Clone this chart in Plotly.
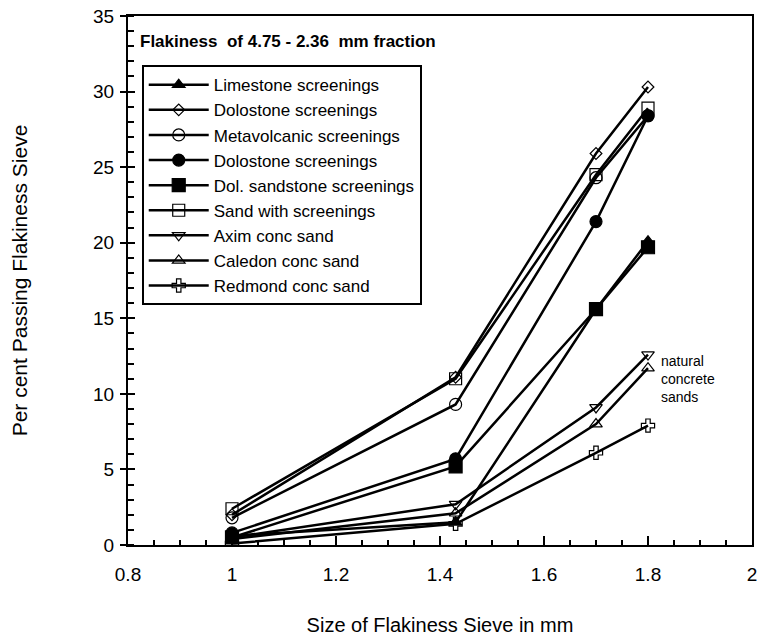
import plotly.graph_objects as go

sieve = [1.0, 1.43, 1.7, 1.8]

names = [
    "Limestone screenings",
    "Dolostone screenings",
    "Metavolcanic screenings",
    "Dolostone screenings",
    "Dol. sandstone screenings",
    "Sand with screenings",
    "Axim conc sand",
    "Caledon conc sand",
    "Redmond conc sand",
]

limestone = [0.6, 1.5, 15.6, 20.1]
dolostone_open = [2.0, 11.1, 25.9, 30.3]
metavolcanic = [1.8, 9.3, 24.3, 28.4]
dolostone_filled = [0.8, 5.7, 21.4, 28.4]
dol_sandstone = [0.5, 5.2, 15.6, 19.7]
sand_screenings = [2.4, 11.0, 24.5, 28.9]
axim = [0.5, 2.7, 9.1, 12.6]
caledon = [0.4, 2.1, 8.0, 11.7]
redmond = [0.1, 1.4, 6.1, 7.9]

x_ticks = [0.8, 1, 1.2, 1.4, 1.6, 1.8, 2]
x_tick_text = ["0.8", "1", "1.2", "1.4", "1.6", "1.8", "2"]
y_ticks = [0, 5, 10, 15, 20, 25, 30, 35]

series = [limestone, dolostone_open, metavolcanic, dolostone_filled,
          dol_sandstone, sand_screenings, axim, caledon, redmond]
symbols = ["triangle-up", "diamond-open", "circle-open", "circle", "square",
           "square-open", "triangle-down-open", "triangle-up-open", "cross-open"]
sizes = [11, 9, 12, 12, 13, 12, 11, 11, 11]

FONT = "Arial, 'Liberation Sans', sans-serif"

fig = go.Figure()
for n, ys, sym, sz in zip(names, series, symbols, sizes):
    fig.add_trace(go.Scatter(
        x=sieve, y=ys, name=n, mode="lines+markers",
        line=dict(color="black", width=2.5),
        marker=dict(symbol=sym, size=sz, color="black",
                    line=dict(color="black", width=1.2)),
    ))

fig.update_layout(
    width=758, height=638,
    margin=dict(l=128, r=6, t=16, b=93, autoexpand=False),
    paper_bgcolor="white", plot_bgcolor="white",
    font=dict(family=FONT, color="black", size=19),
    showlegend=True,
    legend=dict(
        x=0.022, y=0.907, xanchor="left", yanchor="top",
        bordercolor="black", borderwidth=2, bgcolor="white",
        font=dict(size=17, family=FONT), tracegroupgap=0,
        itemwidth=60,
    ),
    xaxis=dict(
        range=[0.8, 2.0], tickmode="array", tickvals=x_ticks, ticktext=x_tick_text,
        showgrid=False, zeroline=False, automargin=False,
        showline=True, linecolor="black", linewidth=2, mirror=True,
        ticks="inside", ticklen=9, tickwidth=1.5, tickcolor="black",
        minor=dict(tick0=0.8, dtick=0.05, ticks="inside", ticklen=5, tickwidth=1.5, tickcolor="black"),
        tickfont=dict(size=19), ticklabelstandoff=11, ticklabeloverflow="allow",
        title=dict(text="Size of Flakiness Sieve in mm", font=dict(size=20), standoff=34),
    ),
    yaxis=dict(
        range=[0, 35], tickmode="array", tickvals=y_ticks,
        showgrid=False, zeroline=False, automargin=False,
        showline=True, linecolor="black", linewidth=2, mirror=True,
        ticks="outside", ticklen=6, tickwidth=1.5, tickcolor="black",
        minor=dict(tick0=0, dtick=1, ticks="inside", ticklen=6, tickwidth=1.5, tickcolor="black"),
        tickfont=dict(size=19), ticklabelstandoff=2, ticklabeloverflow="allow",
        title=dict(text="Per cent Passing Flakiness Sieve", font=dict(size=21), standoff=60),
    ),
    yaxis2=dict(
        range=[0, 35], tickmode="array", tickvals=y_ticks, overlaying="y", side="left",
        showgrid=False, zeroline=False, showline=False, automargin=False,
        ticks="inside", ticklen=7, tickwidth=1.5, tickcolor="black",
        showticklabels=False,
    ),
)

fig.add_trace(go.Scatter(x=[None], y=[None], yaxis="y2", showlegend=False, hoverinfo="skip"))

fig.add_annotation(
    x=0.016, y=0.951, xref="paper", yref="paper", xanchor="left", yanchor="middle",
    text="<b>Flakiness\u00a0\u00a0of 4.75 - 2.36\u00a0\u00a0mm fraction</b>",
    showarrow=False, font=dict(size=17, family=FONT),
)
fig.add_annotation(
    x=1.822, y=11.0, xref="x", yref="y", xanchor="left", yanchor="middle", align="left",
    text="natural<br>concrete<br>sands",
    showarrow=False, font=dict(size=14, family=FONT),
)

# remove the browser's default 8px page margin so the figure fills the window exactly
fig.write_html(
    "out.html",
    config={"displayModeBar": False},
    post_script="document.body.style.margin='0';document.body.style.overflow='hidden';",
)
